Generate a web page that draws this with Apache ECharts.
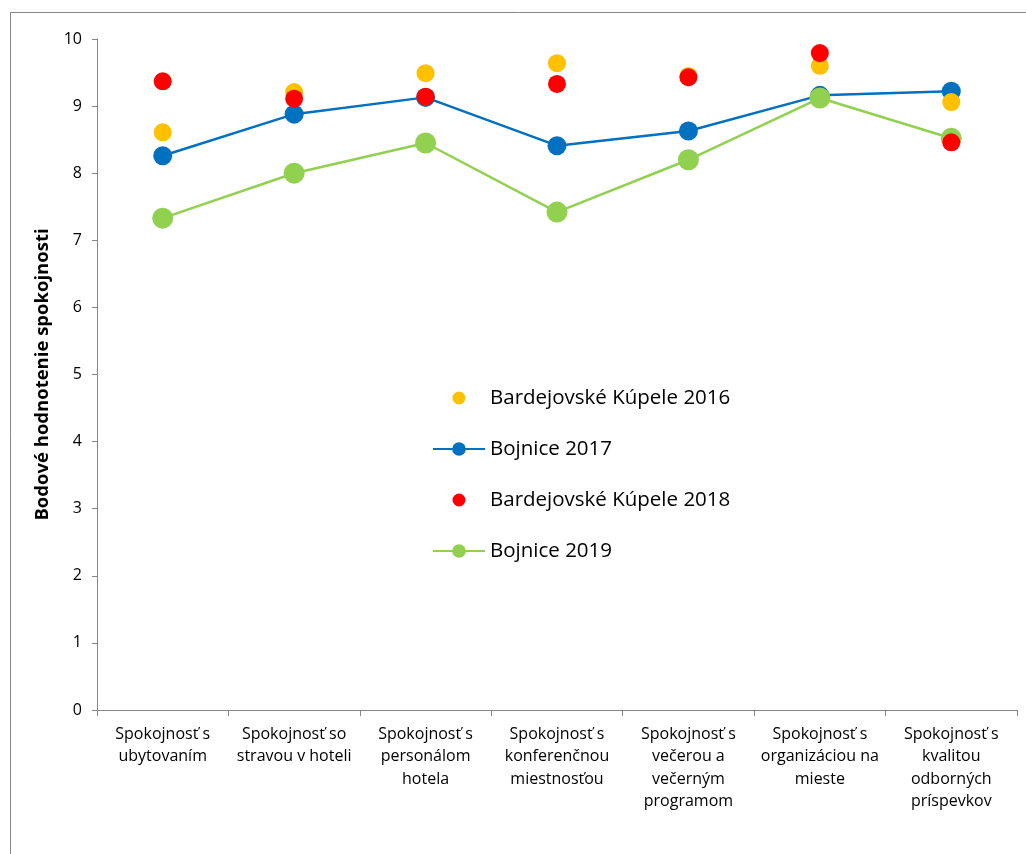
<!DOCTYPE html>
<html>
<head>
<meta charset="utf-8">
<script src="https://cdn.jsdelivr.net/npm/echarts@6/dist/echarts.min.js"></script>
<style>
html,body{margin:0;padding:0;background:#fff;}
#chart{width:1026px;height:854px;}
</style>
</head>
<body>
<div id="chart"></div>
<script>
var categories = [
  "Spokojnosť s ubytovaním",
  "Spokojnosť so stravou v hoteli",
  "Spokojnosť s personálom hotela",
  "Spokojnosť s konferenčnou miestnosťou",
  "Spokojnosť s večerou a večerným programom",
  "Spokojnosť s organizáciou na mieste",
  "Spokojnosť s kvalitou odborných príspevkov"
];
var tickLabels = [
  "Spokojnosť s\nubytovaním",
  "Spokojnosť so\nstravou v hoteli",
  "Spokojnosť s\npersonálom\nhotela",
  "Spokojnosť s\nkonferenčnou\nmiestnosťou",
  "Spokojnosť s\nvečerou a\nvečerným\nprogramom",
  "Spokojnosť s\norganizáciou na\nmieste",
  "Spokojnosť s\nkvalitou\nodborných\npríspevkov"
];
var bardejov2016 = [8.61, 9.21, 9.49, 9.64, 9.45, 9.60, 9.06];
var bojnice2017  = [8.26, 8.88, 9.13, 8.41, 8.63, 9.16, 9.22];
var bardejov2018 = [9.37, 9.11, 9.14, 9.33, 9.43, 9.79, 8.46];
var bojnice2019  = [7.33, 8.00, 8.45, 7.42, 8.20, 9.12, 8.52];
var yAxisTitle = "Bodové hodnotenie spokojnosti";

var FONT = "'Open Sans', Lato, sans-serif";
var chart = echarts.init(document.getElementById('chart'));
chart.setOption({
  animation: false,
  backgroundColor: '#fff',
  textStyle: {fontFamily: FONT},
  graphic: [{
    type: 'polyline',
    shape: {points: [[10.5, 1100], [10.5, 12.5], [1100, 12.5]]},
    style: {stroke: '#868686', lineWidth: 1, fill: null},
    silent: true
  }],
  grid: {left: 97, right: 9, top: 39, bottom: 144, containLabel: false},
  legend: {
    orient: 'vertical',
    left: 427,
    top: 382,
    itemWidth: 52,
    itemHeight: 17,
    itemGap: 29,
    textStyle: {fontSize: 20.5, lineHeight: 22, color: '#000', fontFamily: FONT},
    data: [
      {name: 'Bardejovské Kúpele 2016', itemStyle: {borderColor: '#fff', borderWidth: 4}},
      {name: 'Bojnice 2017'},
      {name: 'Bardejovské Kúpele 2018', itemStyle: {borderColor: '#fff', borderWidth: 4}},
      {name: 'Bojnice 2019'}
    ]
  },
  xAxis: {
    type: 'category',
    data: categories,
    boundaryGap: true,
    axisLine: {lineStyle: {color: '#868686', width: 1}},
    axisTick: {show: true, alignWithLabel: false, length: 6, lineStyle: {color: '#868686'}},
    axisLabel: {
      interval: 0,
      margin: 13,
      fontSize: 16,
      lineHeight: 22.5,
      color: '#000',
      fontFamily: FONT,
      formatter: function (v, i) { return tickLabels[i]; }
    }
  },
  yAxis: {
    type: 'value',
    min: 0, max: 10, interval: 1,
    name: yAxisTitle,
    nameLocation: 'middle',
    nameGap: 45,
    nameTextStyle: {fontSize: 18.5, fontWeight: 'bold', color: '#000', fontFamily: FONT},
    axisLine: {show: true, lineStyle: {color: '#868686', width: 1}},
    axisTick: {show: true, length: 5, lineStyle: {color: '#868686'}},
    axisLabel: {fontSize: 16, color: '#000', margin: 15, fontFamily: FONT},
    splitLine: {show: false}
  },
  series: [
    {
      name: 'Bojnice 2017', type: 'line', data: bojnice2017,
      symbol: 'circle', symbolSize: 19, z: 2,
      itemStyle: {color: '#0070C0'},
      lineStyle: {color: '#0070C0', width: 2.5}
    },
    {
      name: 'Bojnice 2019', type: 'line', data: bojnice2019,
      symbol: 'circle', symbolSize: 21, z: 3,
      itemStyle: {color: '#92D050'},
      lineStyle: {color: '#92D050', width: 2.5}
    },
    {
      name: 'Bardejovské Kúpele 2016', type: 'scatter', data: bardejov2016,
      symbol: 'circle', symbolSize: 18, z: 4,
      itemStyle: {color: '#FFC000', opacity: 1}
    },
    {
      name: 'Bardejovské Kúpele 2018', type: 'scatter', data: bardejov2018,
      symbol: 'circle', symbolSize: 18, z: 5,
      itemStyle: {color: '#FF0000', opacity: 1}
    }
  ]
});
</script>
</body>
</html>
